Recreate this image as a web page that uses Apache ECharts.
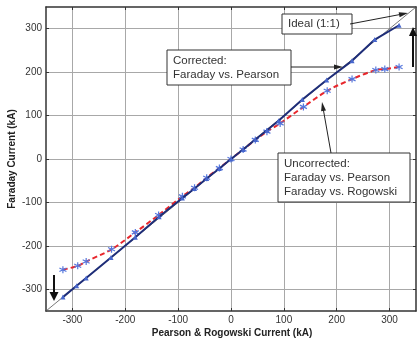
<!DOCTYPE html>
<html>
<head>
<meta charset="utf-8">
<script src="https://cdn.jsdelivr.net/npm/echarts@6/dist/echarts.min.js"></script>
<style>
html,body{margin:0;padding:0;background:#fff;}
#chart{width:418px;height:343px;}
</style>
</head>
<body>
<div id="chart"></div>
<script>
// ---- data ----
const xTicks = [-300, -200, -100, 0, 100, 200, 300];
const yTicks = [-300, -200, -100, 0, 100, 200, 300];
const idealX = [-350, 350];
const idealY = [-350, 350];
const correctedX = [-318, -292, -274, -227, -181, -136, -92, -69, -46, -22, 0, 23, 46, 68, 90, 135, 181, 229, 272, 318];
const correctedY = [-318, -292, -274, -227, -180, -133, -90, -68, -45, -22, 0, 22, 45, 66, 88, 137, 182, 226, 275, 308];
const uncorrectedX = [-318, -290, -274, -226, -181, -137, -92, -69, -46, -22, 0, 23, 46, 68, 93, 137, 182, 229, 274, 291, 318];
const uncorrectedY = [-255, -246, -236, -208, -169, -129, -86, -66, -43, -21, 0, 22, 44, 63, 82, 120, 157, 184, 205, 207, 212];
const xName = 'Pearson & Rogowski Current (kA)';
const yName = 'Faraday Current (kA)';
const labelIdeal = 'Ideal (1:1)';
const labelCorrected = 'Corrected:\nFaraday vs. Pearson';
const labelUncorrected = 'Uncorrected:\nFaraday vs. Pearson\nFaraday vs. Rogowski';

const zip = (a, b) => a.map((v, i) => [v, b[i]]);
const FONT = 'Liberation Sans, Arial, sans-serif';

const chart = echarts.init(document.getElementById('chart'), null, {renderer: 'canvas'});

function axisCommon(ticks, pos, showLabel) {
  return {
    type: 'value', min: -350, max: 350, position: pos,
    axisLine: {show: true, onZero: false, lineStyle: {color: '#333', width: 1.5}},
    axisTick: {show: true, inside: true, length: 3, customValues: ticks, lineStyle: {color: '#333', width: 1}},
    axisLabel: {show: showLabel, customValues: ticks, fontSize: 10, color: '#333', fontFamily: FONT, margin: 4},
    splitLine: {show: showLabel, lineStyle: {color: '#a8a8a8', width: 1}}
  };
}

const xb = axisCommon(xTicks, 'bottom', true);
const xt = axisCommon(xTicks, 'top', false);
const yl = axisCommon(yTicks, 'left', true);
const yr = axisCommon(yTicks, 'right', false);

const asterisk = 'path://M5,0L5,10M0.67,2.5L9.33,7.5M0.67,7.5L9.33,2.5';

function arrow(x1, y1, x2, y2, lw, hl, hw, color) {
  const dx = x2 - x1, dy = y2 - y1, L = Math.hypot(dx, dy);
  const ux = dx / L, uy = dy / L, px = -uy, py = ux;
  const bx = x2 - ux * hl, by = y2 - uy * hl;
  return [
    {type: 'line', shape: {x1: x1, y1: y1, x2: bx + ux * 1, y2: by + uy * 1}, style: {stroke: color, lineWidth: lw}, z: 100},
    {type: 'polygon', shape: {points: [[x2, y2], [bx + px * hw / 2, by + py * hw / 2], [bx - px * hw / 2, by - py * hw / 2]]},
      style: {fill: color}, z: 100}
  ];
}

function box(x, y, w, h, text, lh) {
  return [
    {type: 'rect', shape: {x: x, y: y, width: w, height: h}, style: {fill: '#fff', stroke: '#333', lineWidth: 1}, z: 100},
    {type: 'text', x: x + 6, y: y + h / 2, style: {text: text, fill: '#333', font: '11.5px ' + FONT,
      lineHeight: lh, verticalAlign: 'middle', align: 'left'}, z: 101}
  ];
}

const graphics = [].concat(
  [
    {type: 'text', x: 232, y: 333, style: {text: xName, fill: '#222', font: 'bold 10px ' + FONT,
      align: 'center', verticalAlign: 'middle'}},
    {type: 'text', x: 12, y: 159, rotation: Math.PI / 2, style: {text: yName, fill: '#222', font: 'bold 10px ' + FONT,
      align: 'center', verticalAlign: 'middle'}}
  ],
  box(282, 14, 70, 20, labelIdeal, 14),
  arrow(350, 24, 408, 13, 1, 9, 5, '#222'),
  box(167, 50, 124, 35, labelCorrected, 14),
  arrow(291, 67, 343, 67, 1, 9, 5, '#222'),
  box(278, 153, 132, 49, labelUncorrected, 14),
  arrow(331, 153, 322, 102, 1, 9, 5, '#222'),
  arrow(413, 67, 413, 27, 2, 9, 8, '#111'),
  arrow(54, 275, 54, 301, 2, 9, 9, '#111')
);

chart.setOption({
  animation: false,
  backgroundColor: '#fff',
  grid: {left: 46, right: 2, top: 7, bottom: 32, containLabel: false, outerBoundsMode: 'none'},
  xAxis: [xb, xt],
  yAxis: [yl, yr],
  series: [
    {type: 'line', data: zip(idealX, idealY), symbol: 'none',
      lineStyle: {color: '#555', width: 0.8}, z: 2, silent: true},
    {type: 'line', data: zip(correctedX, correctedY), symbol: 'triangle', symbolSize: 5,
      itemStyle: {color: '#4766cc'}, lineStyle: {color: '#1e2d78', width: 2}, z: 4},
    {type: 'line', data: zip(uncorrectedX, uncorrectedY), smooth: 0.3, symbol: asterisk, symbolSize: 7,
      itemStyle: {color: 'rgba(100,130,220,0.5)', borderColor: '#5577dd', borderWidth: 1.2},
      lineStyle: {color: '#e8262c', width: 2, type: [5, 3]}, z: 3}
  ],
  graphic: graphics
});
</script>
</body>
</html>
